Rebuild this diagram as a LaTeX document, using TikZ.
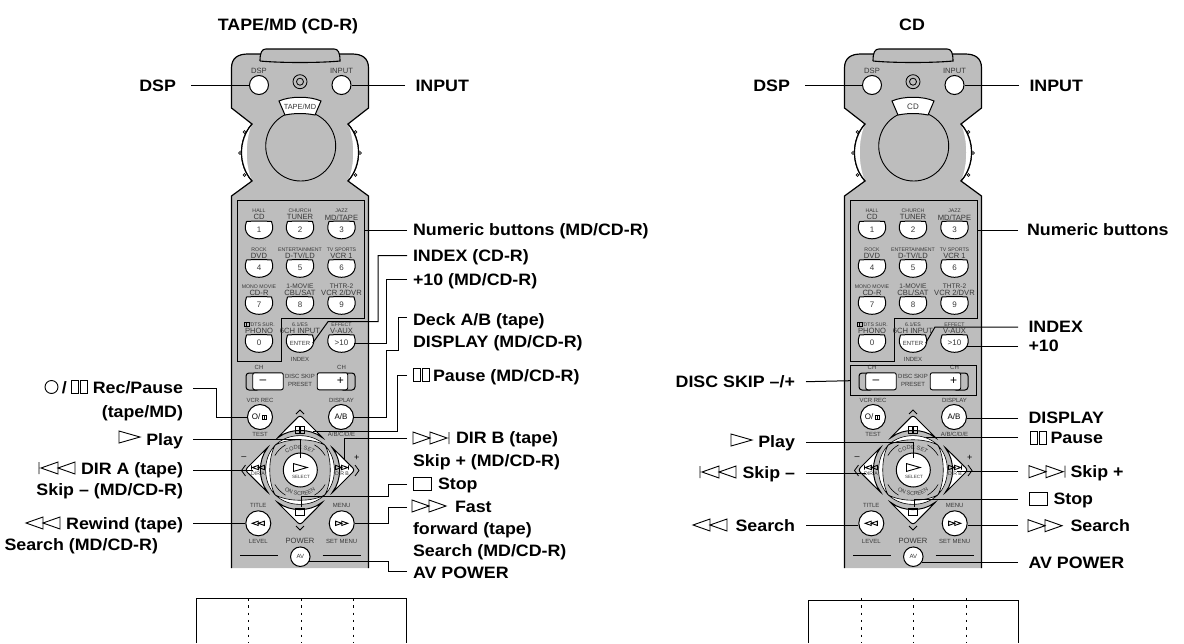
\documentclass[tikz,border=0pt]{standalone}
\usepackage{fontspec}
\setmainfont{Liberation Sans}
\newfontfamily\labfont[FakeStretch=1.08]{Liberation Sans}
\usetikzlibrary{decorations.text}
\definecolor{remgray}{gray}{0.74}
\definecolor{remtext}{gray}{0.22}

% key of the numeric block: name, x, y, small caption, large caption, key text
\newcommand{\numkey}[6]{%
    \draw [keyline] (#2-12.5,#3-8) .. controls (#2-4,#3-8.6) and (#2+4,#3-8.6) .. (#2+12.5,#3-8)
        .. controls (#2+17,#3+4) and (#2+8,#3+9.3) .. (#2,#3+9.3)
        .. controls (#2-8,#3+9.3) and (#2-17,#3+4) .. (#2-12.5,#3-8);
    \node (-#1a) [captsmall] at (#2,#3-18.4) {#4};
    \node (-#1b) [captlarge] at (#2,#3-12.2) {#5};
    \node (-#1)  [keytext, minimum width=25, minimum height=17] at (#2,#3) {#6};
}

\begin{document}
\begin{tikzpicture}[x=1pt, y=-1pt,
    keyline/.style={draw=black, line width=1pt, fill=white},
    symline/.style={draw=black, line width=0.9pt, line join=miter},
    lead/.style={draw=black, line width=1pt},
    keytext/.style={inner sep=0pt, text=remtext, font=\fontsize{8}{8}\selectfont},
    captsmall/.style={inner sep=0pt, text=remtext, font=\fontsize{5.2}{5.2}\selectfont},
    captlarge/.style={inner sep=0pt, text=remtext, font=\fontsize{7.6}{7.6}\selectfont},
    roundkey/.style={circle, draw=black, line width=1pt, fill=white, inner sep=0pt, text=remtext, font=\fontsize{8}{8}\selectfont},
    labtext/.style={inner sep=0pt, text height=11.8pt, text depth=0pt, font=\labfont\bfseries\fontsize{16.5}{16.5}\selectfont},
    labright/.style={labtext, anchor=west, outer xsep=6pt},
    lableft/.style={labtext, anchor=east, outer xsep=10pt},
    labfar/.style={labtext, anchor=west, outer xsep=10.5pt},
    titletext/.style={labtext, anchor=center},
    pics/fwdone/.style={code={\draw [symline] (0,-6) -- (21,0) -- (0,6) -- cycle;}},
    pics/fwdtwo/.style={code={\draw [symline] (0,-6) -- (17,0) -- (0,6) -- cycle (17,-6) -- (34,0) -- (17,6) -- cycle;}},
    pics/fwdskip/.style={code={\draw [symline] (0,-6) -- (17,0) -- (0,6) -- cycle (17,-6) -- (34,0) -- (17,6) -- cycle (36,-6) -- (36,6);}},
    pics/pausebars/.style={code={\draw [symline] (0,-6.5) rectangle (7,6.5) (9,-6.5) rectangle (16,6.5);}},
    pics/stopbox/.style={code={\draw [symline] (0,-6.5) rectangle (18,6.5);}},
    pics/petal/.style={code={
        \draw [keyline, rounded corners=3pt] (0,-55) -- (24,-31) arc (-52.3:-127.7:39) -- cycle;
        \draw [keyline, line width=0.6pt] (-24.5,-25) .. controls (-12,-37.5) and (12,-37.5) .. (24.5,-25) .. controls (12,-32) and (-12,-32) .. cycle;
    }},
    pics/remote/.style={code={
        % body
        \filldraw [fill=remgray, draw=black, line width=1.2pt] (-68.5,568) -- (-68.5,196) -- (-48,181)
            .. controls (-62,165) and (-62,140) .. (-48,124) -- (-68.5,108) -- (-68.5,68)
            .. controls (-68.5,58) and (-62,54) .. (-52,54) -- (52,54)
            .. controls (62,54) and (68.5,58) .. (68.5,68) -- (68.5,108) -- (48,124)
            .. controls (62,140) and (62,165) .. (48,181) -- (68.5,196) -- (68.5,568);
        \fill [white] (-48,124) .. controls (-62,140) and (-62,165) .. (-48,181) .. controls (-55,165) and (-55,140) .. (-48,124);
        \fill [white] (48,124) .. controls (62,140) and (62,165) .. (48,181) .. controls (55,165) and (55,140) .. (48,124);
        \draw [line width=1.2pt] (-48,124) .. controls (-62,140) and (-62,165) .. (-48,181);
        \draw [line width=1.2pt] (48,124) .. controls (62,140) and (62,165) .. (48,181);
        \foreach \ygrip/\xgrip in {132/-55.5,153/-60,175/-55.5} {
            \draw [line width=0.6pt, fill=remgray] (\xgrip,\ygrip) circle (1.5);
            \draw [line width=0.6pt, fill=remgray] (-\xgrip,\ygrip) circle (1.5);
        }
        \draw [line width=1.1pt, fill=remgray] (-40,61) .. controls (-40,52) and (-38,49) .. (-34,49) -- (34,49)
            .. controls (38,49) and (40,52) .. (40,61) .. controls (20,63) and (-20,63) .. (-40,61);
        % top
        \node (-dsp)   [roundkey, minimum size=19] at (-41,85) {};
        \node (-input) [roundkey, minimum size=19] at (41.5,85) {};
        \node (-dspt)   [captlarge] at (-41,70.5) {DSP};
        \node (-inputt) [captlarge] at (41.5,70.5) {INPUT};
        \draw [line width=0.8pt] (0,81.7) circle (7) (0,81.7) circle (3.5);
        \draw [line width=0.9pt, fill=remgray] (0.7,146) circle (35);
        \draw [keyline] (-21,101) .. controls (-10,96) and (10,96) .. (21,101) -- (15,115) .. controls (5,113) and (-5,113) .. (-15,115) -- cycle;
        \node (-mode) [keytext, font=\fontsize{#1}{8}\selectfont] at (0,106.5) {\modename};
        % numeric block
        \draw [line width=1pt] (-63,200) -- (64,200) -- (64,318) -- (-19,318) -- (-19,361) -- (-63,361) -- cycle;
        \coordinate (-numedge) at (64,230);
        \numkey{k1}{-41}{229.5}{HALL}{CD}{1}
        \numkey{k2}{0}{229.5}{CHURCH}{TUNER}{2}
        \numkey{k3}{41.5}{229.5}{JAZZ}{MD/TAPE}{3}
        \numkey{k4}{-41}{268}{ROCK}{DVD}{4}
        \numkey{k5}{0}{268}{ENTERTAINMENT}{D-TV/LD}{5}
        \numkey{k6}{41.5}{268}{TV SPORTS}{VCR 1}{6}
        \numkey{k7}{-41}{305}{MONO MOVIE}{CD-R}{7}
        \numkey{k8}{0}{305}{\fontsize{6.6}{6.6}\selectfont 1-MOVIE}{CBL/SAT}{8}
        \numkey{k9}{41.5}{305}{\fontsize{6.6}{6.6}\selectfont THTR-2}{VCR 2/DVR}{9}
        \numkey{k0}{-41}{343}{\hspace*{6pt}/DTS SUR.}{PHONO}{0}
        \numkey{enter}{0}{343}{6.1/ES}{6CH INPUT}{\fontsize{6}{6}\selectfont ENTER}
        \numkey{ten}{41.5}{343}{EFFECT}{V-AUX}{>10}
        \pic [scale=0.32] at (-56,324.6) {pausebars};
        \node (-indext) [captsmall, font=\fontsize{6}{6}\selectfont] at (0,359.5) {INDEX};
        % channel and disc skip
        \node (-chl) [captsmall, font=\fontsize{6}{6}\selectfont] at (-41,367.5) {CH};
        \node (-chr) [captsmall, font=\fontsize{6}{6}\selectfont] at (41.5,367.5) {CH};
        \draw [keyline, fill=remgray, rounded corners=3pt] (-54,373) rectangle (-40,390);
        \draw [keyline, fill=remgray, rounded corners=3pt] (40,373) rectangle (55,390);
        \node (-minus) [keytext, draw=black, line width=0.9pt, fill=white, rounded corners=2pt, minimum width=30.5, minimum height=17, font=\fontsize{12}{12}\selectfont, text=black] at (-32,381.3) {\hspace*{-10pt}–};
        \node (-plus)  [keytext, draw=black, line width=0.9pt, fill=white, rounded corners=2pt, minimum width=30.5, minimum height=17, font=\fontsize{12}{12}\selectfont, text=black] at (32.5,381.3) {\hspace*{16pt}+};
        \node (-skipa) [captsmall, font=\fontsize{6}{6}\selectfont] at (0,376.7) {DISC SKIP};
        \node (-skipb) [captsmall, font=\fontsize{6}{6}\selectfont] at (0,384.3) {PRESET};
        % rec and display
        \node (-vcr)  [captsmall, font=\fontsize{6}{6}\selectfont] at (-40,400) {VCR REC};
        \node (-disp) [captsmall, font=\fontsize{6}{6}\selectfont] at (41.5,400) {DISPLAY};
        \node (-rec)  [roundkey, minimum size=25, text=black] at (-40,417) {O/\hspace*{8pt}};
        \pic [scale=0.3] at (-38,417) {pausebars};
        \node (-ab)   [roundkey, minimum size=25, text=black] at (41,417) {A/B};
        \node (-test) [captsmall, font=\fontsize{6}{6}\selectfont] at (-40,434) {TEST};
        \node (-abc)  [captsmall, font=\fontsize{6}{6}\selectfont] at (41.5,434) {A/B/C/D/E};
        % cross keys
        \foreach \adiag in {-60,30,120,210}
            \draw [line width=0.6pt] (0,470) ++(\adiag:29) arc (\adiag:\adiag+30:29);
        \pic at (0,470) {petal};
        \pic [rotate=90]  at (0,470) {petal};
        \pic [rotate=180] at (0,470) {petal};
        \pic [rotate=270] at (0,470) {petal};
        \node (-play) [roundkey, minimum size=34] at (0.3,470) {};
        \pic [scale=0.65] at (-6.5,467.5) {fwdone};
        \node (-select) [captsmall, font=\fontsize{4.6}{4.6}\selectfont] at (1,476.5) {SELECT};
        \path [postaction={decorate, decoration={text along path, text={|\fontsize{5.6}{5.6}\selectfont\color{remtext}|CODE SET}, text align=center}}]
            (-18.2,459.5) arc (-150:-30:21);
        \path [postaction={decorate, decoration={text along path, text={|\fontsize{5.6}{5.6}\selectfont\color{remtext}|ON SCREEN}, text align=center}}]
            (-21.6,483.5) arc (148:32:25.5);
        \pic [scale=0.5] at (-4.5,512) {stopbox};
        \pic [scale=0.55] at (-4.4,430) {pausebars};
        \pic [xscale=-0.36, yscale=0.36] at (-35.5,467.5) {fwdskip};
        \pic [scale=0.36] at (35.5,467.5) {fwdskip};
        \node (-dira) [captsmall] at (-42,474) {DIR A};
        \node (-dirb) [captsmall] at (42,474) {DIR B};
        \node (-minussign) [captlarge, text=black, font=\fontsize{9}{9}\selectfont] at (-56,458) {–};
        \node (-plussign)  [captlarge, text=black, font=\fontsize{9}{9}\selectfont] at (56.7,458) {+};
        \draw [line width=0.8pt] (-54.5,465) -- (-58.5,470.5) -- (-54.5,476) (55,465) -- (59,470.5) -- (55,476);
        \draw [line width=0.8pt] (-4,414) -- (0,410) -- (4,414) (-4,526) -- (0,530) -- (4,526);
        % lower keys
        \node (-titlet) [captsmall, font=\fontsize{6}{6}\selectfont] at (-41.7,505.7) {TITLE};
        \node (-menut)  [captsmall, font=\fontsize{6}{6}\selectfont] at (41.7,505.7) {MENU};
        \node (-rew) [roundkey, minimum size=25] at (-41.7,523.3) {};
        \node (-ffw) [roundkey, minimum size=25] at (41.7,523.3) {};
        \pic [xscale=-0.36, yscale=0.36] at (-35.6,523.3) {fwdtwo};
        \pic [scale=0.36] at (35.6,523.3) {fwdtwo};
        \node (-levelt) [captsmall, font=\fontsize{6}{6}\selectfont] at (-41.7,541) {LEVEL};
        \node (-powert) [captlarge] at (0,541) {POWER};
        \node (-setm)   [captsmall, font=\fontsize{6}{6}\selectfont] at (41.7,541) {SET MENU};
        \node (-av) [roundkey, minimum size=19.5, font=\fontsize{6}{6}\selectfont] at (0.3,556.7) {AV};
        \draw [line width=0.8pt] (-60,555.7) -- (-22,555.7) (22.7,555.7) -- (60.7,555.7);
    }}]

    \useasboundingbox (0,0) rectangle (1184,643);

    % remotes
    \def\modename{TAPE/MD}
    \pic (L) at (300,0) {remote={7.4}};
    \def\modename{CD}
    \pic (R) at (913,0) {remote={8}};
    \node (rdiscbox) [draw=black, line width=1pt, minimum width=126, minimum height=30, inner sep=0pt] at (913.7,380.7) {};

    \node (ltitle) [titletext] at (288,24.5) {TAPE/MD (CD-R)};
    \node (rtitle) [titletext] at (912,24.5) {CD};

    % left figure, labels on the right side
    \node (linput) [labfar]   at (405,85.5)  {INPUT};
    \node (lnum)   [labright] at (407,230)   {Numeric buttons (MD/CD-R)};
    \node (lindex) [labright] at (407,255.5) {INDEX (CD-R)};
    \node (lten)   [labright] at (407,279.5) {+10 (MD/CD-R)};
    \node (ldeck)  [labright] at (407,320)   {Deck A/B (tape)};
    \node (ldisp)  [labright] at (407,342)   {DISPLAY (MD/CD-R)};
    \node (lpause) [labright] at (407,375.5) {\hspace*{20pt}Pause (MD/CD-R)};
    \node (ldirb)  [labright] at (407,438)   {\hspace*{43pt}DIR B (tape)};
    \node (lskipp) [labright] at (407,461)   {Skip + (MD/CD-R)};
    \node (lstop)  [labright] at (407,484)   {\hspace*{25pt}Stop};
    \node (lfast)  [labright] at (407,507)   {\hspace*{42pt}Fast};
    \node (lforw)  [labright] at (407,529)   {forward (tape)};
    \node (lfsrch) [labright] at (407,551)   {Search (MD/CD-R)};
    \node (lpower) [labright] at (407,573)   {AV POWER};

    % left figure, labels on the left side
    \node (ldsp)   [lableft, outer xsep=15pt] at (191,85.5) {DSP};
    \node (lrec)   [lableft] at (193,388)   {/\hspace*{26pt}Rec/Pause};
    \node (lrecb)  [lableft] at (193,412)   {(tape/MD)};
    \node (lplay)  [lableft] at (193,439.5) {Play};
    \node (ldira)  [lableft] at (193,468.5) {DIR A (tape)};
    \node (lskipm) [lableft] at (193,490)   {Skip – (MD/CD-R)};
    \node (lrew)   [lableft] at (193,523.5) {Rewind (tape)};
    \node (lsrch)  [lableft] at (168,545)   {Search (MD/CD-R)};

    % right figure
    \node (rinput) [labfar] at (1019,85.5)  {INPUT};
    \node (rnum)   [labtext, anchor=west, outer xsep=9pt] at (1018,230) {Numeric buttons};
    \node (rindex) [labfar] at (1018,327)   {INDEX};
    \node (rten)   [labfar] at (1018,346)   {+10};
    \node (rdisp)  [labfar] at (1018,418)   {DISPLAY};
    \node (rpause) [labfar] at (1018,437.7) {\hspace*{22pt}Pause};
    \node (rskipp) [labfar] at (1018,471.7) {\hspace*{42pt}Skip +};
    \node (rstop)  [labfar] at (1018,499)   {\hspace*{25pt}Stop};
    \node (rffw)   [labfar] at (1018,525.7) {\hspace*{42pt}Search};
    \node (rpower) [labfar] at (1018,562.7) {AV POWER};
    \node (rdsp)   [lableft, outer xsep=15pt] at (805,85.5) {DSP};
    \node (rdisc)  [lableft, outer xsep=11pt] at (806,381.7) {DISC SKIP –/+};
    \node (rplay)  [lableft, outer xsep=11pt] at (806,442)   {Play};
    \node (rskipm) [lableft, outer xsep=11pt] at (806,473)   {Skip –};
    \node (rrew)   [lableft, outer xsep=11pt] at (806,525.7) {Search};

    % symbols of the labels
    \pic at (413,375)     {pausebars};
    \pic at (413,438)     {fwdskip};
    \pic at (413,484)     {stopbox};
    \pic at (412,506)     {fwdtwo};
    \pic at (71,387)      {pausebars};
    \draw [symline] (51.5,387) circle (6.5);
    \pic at (119,437)     {fwdone};
    \pic [xscale=-1] at (75,468)  {fwdskip};
    \pic [xscale=-1] at (60,523)  {fwdtwo};
    \pic at (1030,437.5)  {pausebars};
    \pic at (1029,471.7)  {fwdskip};
    \pic at (1029,499)    {stopbox};
    \pic at (1028,525.7)  {fwdtwo};
    \pic at (731,440)     {fwdone};
    \pic [xscale=-1] at (736,472) {fwdskip};
    \pic [xscale=-1] at (727,525) {fwdtwo};

    % leads, left figure
    \draw [lead] (ldsp.east) -- (ldsp.east -| L-dsp.west);
    \draw [lead] (linput.west) -- (linput.west -| L-input.east);
    \draw [lead] (lnum.west) -- (L-numedge);
    \draw [lead] (lindex.west) -- (378,255.5) -- (378,321.7) -- (328,321.7) -- (L-enter.east);
    \draw [lead] (lten.west) -- (386,279.5) |- (L-ten.east);
    \draw [lead] ([yshift=3pt]ldeck.west) -- (398,317) -- (398,350) -- (386,350) |- (L-ab.east);
    \draw [lead] (lpause.west) -- (397,375.5) |- (313,431.7);
    \draw [lead] (ldirb.west) -- (344,438) -- (344,460);
    \draw [lead] (lstop.west) -- (388,484) -- (388,496) -- (301,496) -- (301,507);
    \draw [lead] (lfast.west) -- (388,507) |- (L-ffw.east);
    \draw [lead] ([yshift=1.5pt]lpower.west) -- (388.3,571.5) |- (309,561);
    \draw [lead] (lrec.east) -- (216.7,388) |- (L-rec.west);
    \draw [lead] (lplay.east) -| ([yshift=-5pt]L-play.north);
    \draw [lead] ([yshift=-1.5pt]ldira.east) -- (253,470);
    \draw [lead] (lrew.east) -- (lrew.east -| L-rew.west);

    % leads, right figure
    \draw [lead] (rdsp.east) -- (rdsp.east -| R-dsp.west);
    \draw [lead] (rinput.west) -- (rinput.west -| R-input.east);
    \draw [lead] (rnum.west) -- (R-numedge);
    \draw [lead] (rindex.west) -- (935,327) -- (R-enter.east);
    \draw [lead] (rten.west) -- (rten.west -| R-ten.east);
    \draw [lead] (rdisp.west) -- (rdisp.west -| R-ab.east);
    \draw [lead] (rpause.west) -- (926,437.7);
    \draw [lead] (rskipp.west) -- (957,471.7);
    \draw [lead] (rstop.west) -- (914,499) -- (914,507);
    \draw [lead] (rffw.west) -- (rffw.west -| R-ffw.east);
    \draw [lead] (rpower.west) -- (922,562.7);
    \draw [lead] (rdisc.east) -- (rdiscbox.west);
    \draw [lead] (rplay.east) -| ([yshift=-5pt]R-play.north);
    \draw [lead] (rskipm.east) -- (866,473);
    \draw [lead] (rrew.east) -- (rrew.east -| R-rew.west);

    % sheets below the remotes
    \draw [line width=0.9pt] (196,643) -- (196,598) -- (406.7,598) -- (406.7,643);
    \draw [line width=0.9pt] (808.5,643) -- (808.5,600) -- (1018.5,600) -- (1018.5,643);
    \foreach \xfold in {248.7,301,353.7,861,913.7,966}
        \draw [line width=0.9pt, dash pattern=on 2.5pt off 4.8pt] (\xfold,598) -- (\xfold,643);
\end{tikzpicture}
\end{document}
